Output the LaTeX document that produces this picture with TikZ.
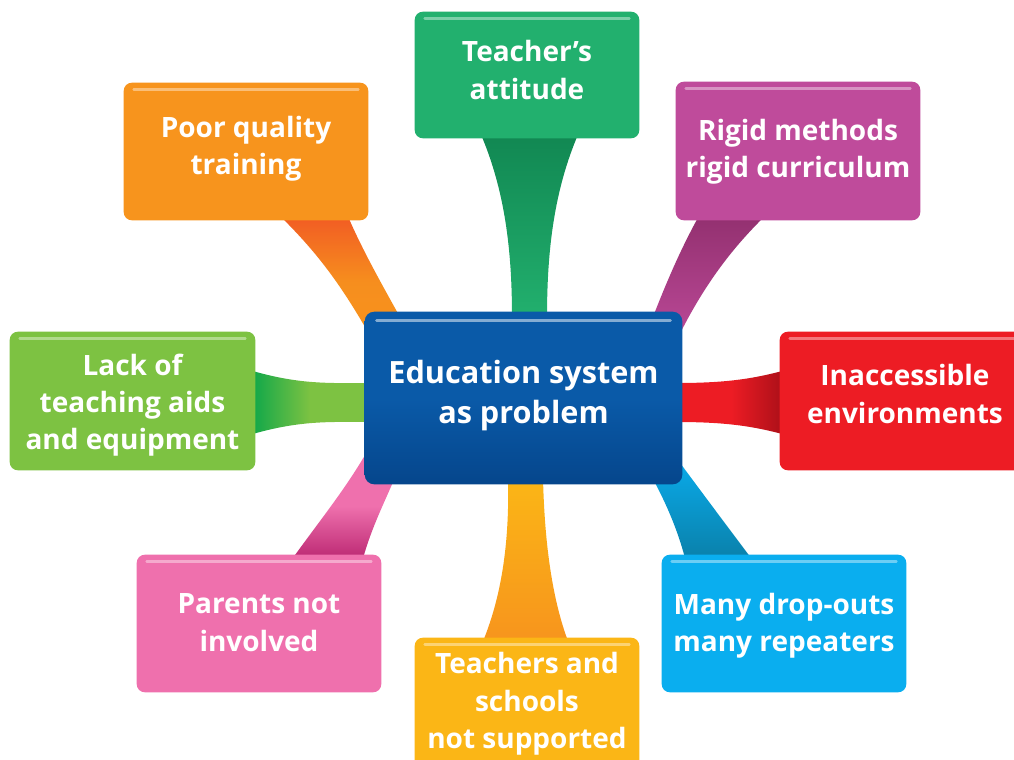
\documentclass[tikz,border=0pt]{standalone}
\usepackage{fontspec}
\setmainfont{Open Sans}
\usetikzlibrary{calc}
\definecolor{cblue}{HTML}{0A5AA8}
\definecolor{cbluedk}{HTML}{05468C}
\definecolor{cgreen}{HTML}{22B06E}
\definecolor{cgreendk}{HTML}{118752}
\definecolor{corange}{HTML}{F7941D}
\definecolor{corangedk}{HTML}{F15A24}
\definecolor{cpurple}{HTML}{BF4B9B}
\definecolor{cpurpledk}{HTML}{92306F}
\definecolor{clime}{HTML}{7DC242}
\definecolor{climedk}{HTML}{0AA64A}
\definecolor{cred}{HTML}{ED1C24}
\definecolor{creddk}{HTML}{A80F18}
\definecolor{cpink}{HTML}{EF70AD}
\definecolor{cpinkdk}{HTML}{B8246F}
\definecolor{cyellow}{HTML}{FBB616}
\definecolor{cyellowdk}{HTML}{F7941D}
\definecolor{ccyan}{HTML}{0AAEEF}
\definecolor{ccyandk}{HTML}{0A7FA8}
\tikzset{
  box/.style={rounded corners=6pt, inner sep=0pt, align=center, text=white,
    font=\fontsize{21}{28}\selectfont\bfseries},
  centerbox/.style={box, font=\fontsize{23}{30}\selectfont\bfseries},
  ribbon/.style={draw=none},
}
\begin{document}
\begin{tikzpicture}[x=0.75pt,y=-0.75pt]
\useasboundingbox (0,0) rectangle (1014,760);
\clip (0,0) rectangle (1014,760);
% ---- nodes (positions only, drawn later) ----
\path
 (523.5,398) node[centerbox, minimum width=237.75pt, minimum height=129pt] (edu) {}
 (527,75) node[box, minimum width=168pt, minimum height=94.5pt] (att) {}
 (246,151.5) node[box, minimum width=183pt, minimum height=102.75pt] (poor) {}
 (798,151) node[box, minimum width=183pt, minimum height=103.5pt] (rigid) {}
 (132.5,401) node[box, minimum width=183.75pt, minimum height=103.5pt] (lack) {}
 (905,401) node[box, minimum width=187.5pt, minimum height=103.5pt] (inacc) {}
 (259,623.5) node[box, minimum width=183pt, minimum height=102.75pt] (par) {}
 (527,707) node[box, minimum width=168pt, minimum height=103.5pt] (sup) {}
 (784,623.5) node[box, minimum width=183pt, minimum height=102.75pt] (drop) {};
% ---- ribbons (connectors) ----
\shade[ribbon, top color=cgreendk, bottom color=cgreen]
  ($(att.south)+(-47,-6)$) .. controls (505,190) and (512,250) .. ($(edu.north)+(-11.5,6)$)
  -- ($(edu.north)+(23.5,6)$) .. controls (547,250) and (554,190) .. ($(att.south)+(52,-6)$) -- cycle;
\shade[ribbon, top color=corangedk, bottom color=corange, middle color=corange!90!corangedk]
  (278,214) .. controls (320,255) and (345,290) .. (378,350)
  -- (410,335) .. controls (385,290) and (362,250) .. (347,214) -- cycle;
\shade[ribbon, top color=cpurpledk, bottom color=cpurple]
  (700,214) .. controls (680,250) and (665,285) .. (646,335)
  -- (672,350) .. controls (700,290) and (730,250) .. (767,214) -- cycle;
\shade[ribbon, left color=climedk, right color=clime, middle color=clime]
  ($(lack.east)+(-6,-31)$) .. controls (300,385) and (330,383) .. ($(edu.west)+(6,-15)$)
  -- ($(edu.west)+(6,24)$) .. controls (330,422) and (300,420) .. ($(lack.east)+(-6,34)$) -- cycle;
\shade[ribbon, left color=cred, right color=creddk, middle color=cred]
  ($(edu.east)+(-6,-15)$) .. controls (720,383) and (750,380) .. ($(inacc.west)+(6,-31)$)
  -- ($(inacc.west)+(6,34)$) .. controls (750,425) and (720,422) .. ($(edu.east)+(-6,24)$) -- cycle;
\shade[ribbon, top color=cpink, bottom color=cpinkdk, middle color=cpink]
  (290,562) .. controls (320,520) and (345,490) .. (368,450)
  -- (398,470) .. controls (386,500) and (372,525) .. (362,562) -- cycle;
\shade[ribbon, top color=cyellow, bottom color=cyellowdk]
  ($(edu.south)+(-15.5,-6)$) .. controls (510,560) and (496,610) .. ($(sup.north)+(-45,6)$)
  -- ($(sup.north)+(42,6)$) .. controls (556,610) and (545,560) .. ($(edu.south)+(19.5,-6)$) -- cycle;
\shade[ribbon, top color=ccyan, bottom color=ccyandk]
  (648,470) .. controls (665,500) and (678,530) .. (686,562)
  -- (754,562) .. controls (730,530) and (700,490) .. (672,452) -- cycle;
% ---- boxes ----
\newcommand\glossbox[5]{% name, fill, dark, dy, text
  \fill[rounded corners=6pt, #2] (#1.south west) rectangle (#1.north east);
  \draw[white, opacity=0.4, line width=2.2pt, line cap=round]
    ($(#1.north west)+(10,7)$) -- ($(#1.north east)+(-10,7)$);
  \node[box, align=center] at ($(#1.center)+(0,#4)$) {#5};
}
\shade[rounded corners=7pt, top color=cblue, bottom color=cbluedk, middle color=cblue]
  (edu.south west) rectangle (edu.north east);
\draw[white, opacity=0.5, line width=2.5pt, line cap=round]
  ($(edu.north west)+(12,9)$) -- ($(edu.north east)+(-12,9)$);
\node[centerbox] at ($(edu.center)+(0,-2)$) {Education system\\as problem};
\glossbox{att}{cgreen}{cgreendk}{-5}{Teacher’s\\attitude}
\glossbox{poor}{corange}{corangedk}{-3}{Poor quality\\training}
\glossbox{rigid}{cpurple}{cpurpledk}{1}{Rigid methods\\rigid curriculum}
\glossbox{lack}{clime}{climedk}{4}{Lack of\\teaching aids\\and equipment}
\glossbox{inacc}{cred}{creddk}{-7}{Inaccessible\\environments}
\glossbox{par}{cpink}{cpinkdk}{-1}{Parents not\\involved}
\glossbox{sup}{cyellow}{cyellowdk}{-3}{Teachers and\\schools\\not supported}
\glossbox{drop}{ccyan}{ccyandk}{2}{Many drop-outs\\many repeaters}
\end{tikzpicture}
\end{document}
